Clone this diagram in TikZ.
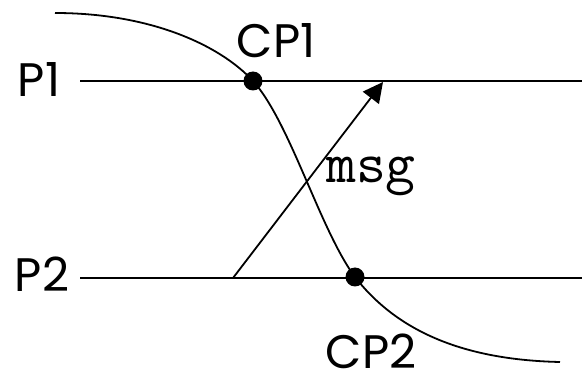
\documentclass[tikz,border=0pt]{standalone}
\usepackage{fontspec}
\setmainfont{Poppins}
\usetikzlibrary{arrows.meta}
\begin{document}
\begin{tikzpicture}[x=1pt,y=-1pt,
  line/.style={line width=1.8pt,black},
  dot/.style={circle,fill=black,inner sep=0pt,minimum size=19pt},
  lbl/.style={inner sep=0pt,text depth=0pt,font=\fontsize{47}{50}\selectfont},
  msglbl/.style={inner sep=0pt,anchor=base west,font=\fontsize{58}{62}\selectfont\ttfamily}]
\useasboundingbox (0,0) rectangle (582,377);
% process lines
\coordinate (p1s) at (80,81);
\coordinate (p1e) at (582,81);
\coordinate (p2s) at (80,278);
\coordinate (p2e) at (582,278);
\draw[line] (p1s) -- (p1e);
\draw[line] (p2s) -- (p2e);
% labels
\node[lbl,anchor=base] (P1) at (39,97) {P1};
\node[lbl,anchor=base] (P2) at (42,292) {P2};
% checkpoint curve
\coordinate (c0) at (55,13);
\coordinate (c3) at (560,362);
\node[dot] (cp1) at (253,81) {};
\node[dot] (cp2) at (355,277) {};
\draw[line] (c0) .. controls (150,13) and (220,45) .. (cp1.center)
  .. controls (290,122) and (320,230) .. (cp2.center)
  .. controls (400,335) and (470,360) .. (c3);
\node[lbl,anchor=base] (CP2) at (371,369) {CP2};
\node[lbl,anchor=base] (CP1) at (276,58) {CP1};
% message
\coordinate (ms) at (233,278);
\coordinate (me) at (383,82);
\draw[line,-{Triangle[length=20pt,width=20pt]}] (ms) -- (me);
\node[msglbl] (msg) at (326,183) {msg};
\end{tikzpicture}
\end{document}
